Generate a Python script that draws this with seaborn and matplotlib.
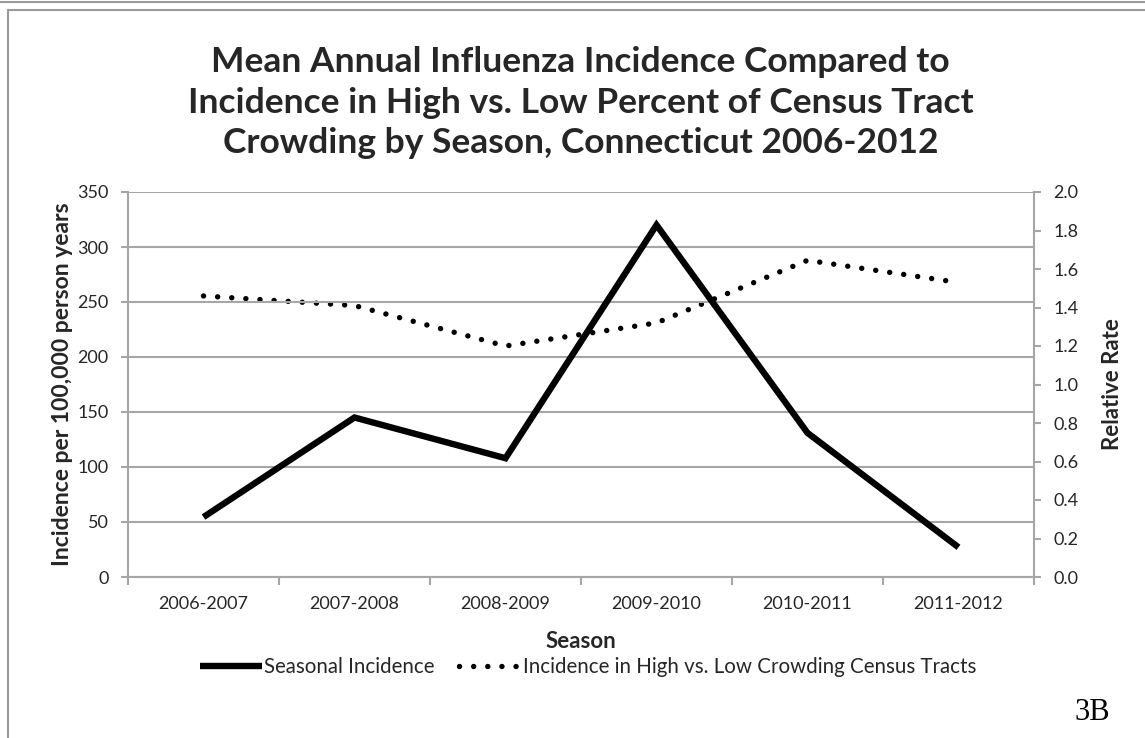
import matplotlib
matplotlib.use("Agg")
import matplotlib.pyplot as plt
from matplotlib.lines import Line2D
import pandas as pd
import seaborn as sns

# values
seasons = ["2006-2007", "2007-2008", "2008-2009", "2009-2010", "2010-2011", "2011-2012"]
seasonal_incidence = [54.5, 145, 108, 320, 131, 27]
relative_rate = [1.46, 1.41, 1.20, 1.32, 1.645, 1.53]

df = pd.DataFrame({"season": seasons,
                   "incidence": seasonal_incidence,
                   "rr": relative_rate})

sns.set_style("white")
plt.rcParams["font.family"] = ["Lato", "DejaVu Sans"]

grid_c = "#a6a6a6"
text_c = "#262626"

fig = plt.figure(figsize=(11.45, 7.38), dpi=100)
ax = fig.add_axes([128 / 1145, 1 - 577 / 738, 906 / 1145, 385 / 738])
ax2 = ax.twinx()

# solid line - seasonal incidence (left axis)
sns.lineplot(data=df, x="season", y="incidence", ax=ax, color="black",
             linewidth=4.6, sort=False)
# dotted line - relative rate (right axis)
sns.lineplot(data=df, x="season", y="rr", ax=ax2, color="black",
             linewidth=3.9, sort=False)
dot_line = ax2.lines[0]
dot_line.set_linestyle((0, (0.01, 2.6)))
dot_line.set_dash_capstyle("round")
ax.lines[0].set_solid_capstyle("butt")
ax.lines[0].set_solid_joinstyle("miter")

ax.set_ylim(0, 350)
ax.set_yticks(range(0, 351, 50))
ax2.set_ylim(0, 2.0)
ax2.set_yticks([i / 10 for i in range(0, 21, 2)])
ax2.set_yticklabels([f"{i / 10:.1f}" for i in range(0, 21, 2)])
ax.set_xlim(-0.5, 5.5)

# excel-like grid and axes
ax.yaxis.grid(True, color=grid_c, linewidth=1.5)
ax.set_axisbelow(True)
ax.set_zorder(ax2.get_zorder() + 1)
ax.patch.set_visible(False)
for a in (ax, ax2):
    a.spines["top"].set_visible(False)
    for s in ("left", "right", "bottom"):
        a.spines[s].set_color(grid_c)
        a.spines[s].set_linewidth(1.5)
ax.spines["right"].set_visible(False)
ax2.spines["left"].set_visible(False)
ax2.spines["bottom"].set_visible(False)

ax.tick_params(axis="y", direction="out", length=5, width=1.5, color=grid_c,
               labelsize=13, labelcolor=text_c, pad=9, left=True)
ax2.tick_params(axis="y", direction="out", length=5, width=1.5, color=grid_c,
                labelsize=13, labelcolor=text_c, pad=9, right=True)

ax.set_xticks([i - 0.5 for i in range(7)])
ax.set_xticklabels([])
ax.set_xticks(range(len(seasons)), labels=seasons, minor=True)
ax.tick_params(axis="x", which="major", direction="out", length=6, width=1.5,
               color=grid_c, bottom=True)
ax.tick_params(axis="x", which="minor", length=0, labelsize=13,
               labelcolor=text_c, pad=14)

ax.set_xlabel("Season", fontsize=16, fontweight="bold", color=text_c, labelpad=13)
ax.set_ylabel("Incidence per 100,000 person years", fontsize=16.5,
              fontweight="bold", color=text_c, labelpad=3)
ax2.set_ylabel("Relative Rate", fontsize=16, fontweight="bold", color=text_c,
               labelpad=17)

fig.text(0.507, 1 - 46 / 738,
         "Mean Annual Influenza Incidence Compared to\n"
         "Incidence in High vs. Low Percent of Census Tract\n"
         "Crowding by Season, Connecticut 2006-2012",
         ha="center", va="top", fontsize=25.5, fontweight="bold",
         color=text_c, linespacing=1.33)

handles = [Line2D([], [], color="black", linewidth=4.6, solid_capstyle="butt"),
           Line2D([], [], color="black", linewidth=3.9,
                  linestyle=(0, (0.01, 2.6)), dash_capstyle="round")]
fig.legend(handles, ["Seasonal Incidence",
                     "Incidence in High vs. Low Crowding Census Tracts"],
           loc="center", bbox_to_anchor=(588 / 1145, 1 - 667 / 738), ncol=2,
           frameon=False, fontsize=14.8, handlelength=3.0, handletextpad=0.1,
           columnspacing=1.2, labelcolor=text_c)

fig.text(1110 / 1145, 1 - 712 / 738, "3B", ha="right", va="center",
         fontsize=22, family="Liberation Serif", color="black")

# outer frame
fig.add_artist(Line2D([0, 1], [1 - 2 / 738, 1 - 2 / 738], transform=fig.transFigure,
                      color="#9a9a9a", linewidth=1.5))
fig.add_artist(Line2D([8 / 1145, 1], [1 - 10 / 738, 1 - 10 / 738],
                      transform=fig.transFigure, color="#9a9a9a", linewidth=1.5))
fig.add_artist(Line2D([8 / 1145, 8 / 1145], [0, 1 - 10 / 738],
                      transform=fig.transFigure, color="#9a9a9a", linewidth=1.5))

fig.savefig("out.png", dpi=100)
